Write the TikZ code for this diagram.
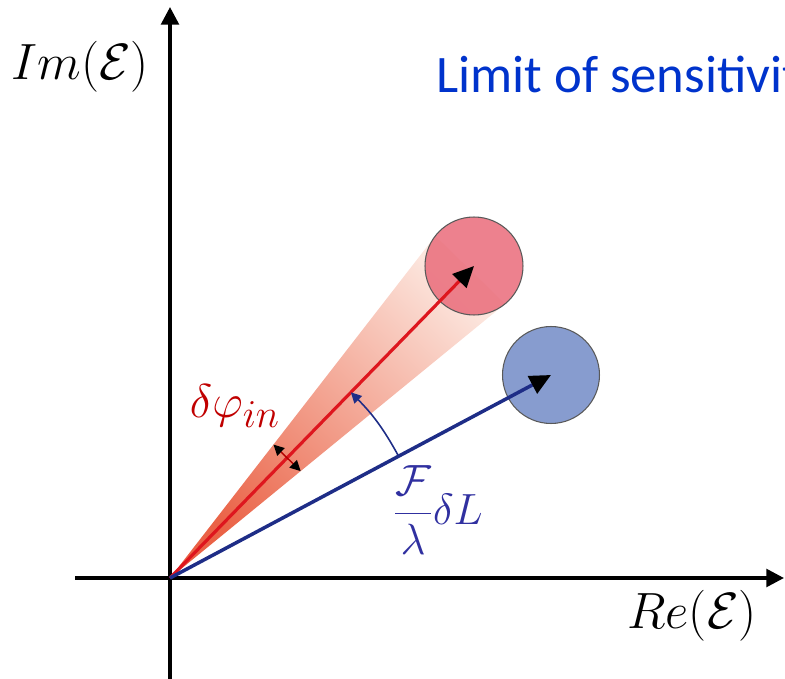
\documentclass[tikz,border=0pt]{standalone}
\usepackage{fontspec}
\newfontfamily\limitfont{Carlito}
\usetikzlibrary{arrows.meta, calc, backgrounds}
\definecolor{vecred}{RGB}{222,22,30}
\definecolor{vecblue}{RGB}{30,45,135}
\definecolor{circred}{RGB}{234,112,126}
\definecolor{circblue}{RGB}{118,142,200}
\definecolor{conedark}{RGB}{234,98,70}
\definecolor{conelight}{RGB}{252,230,222}
\definecolor{phired}{RGB}{192,0,0}
\definecolor{labelblue}{RGB}{48,48,160}
\definecolor{limitblue}{RGB}{0,51,204}

\begin{document}
\begin{tikzpicture}[
    x=0.02cm, y=-0.02cm,
    axis/.style={line width=2pt, black, -{Triangle[length=10pt, width=10pt]}},
    vec/.style={-{Triangle[color=black, length=12pt, width=11pt]}},
    blob/.style={circle, inner sep=0pt, outer sep=0pt,
        draw=black!65, line width=0.6pt, fill opacity=0.88},
    bigmath/.style={font=\fontsize{24.88}{30}\selectfont, scale=1.166, transform shape},
    smalltip/.style={line width=0.8pt,
        {Triangle[color=black, length=6pt, width=6pt]}-{Triangle[color=black, length=6pt, width=6pt]}}
]
\useasboundingbox (0,0) rectangle (785,679);
\clip (0,0) rectangle (785,679);

% Axes
\coordinate (O) at (170,578);
\coordinate (xs) at (75,578);
\coordinate (xe) at (784,578);
\coordinate (ys) at (170,679);
\coordinate (ye) at (170,7);
\draw[axis] (xs) -- (xe);
\draw[axis] (ys) -- (ye);

% Field states
\node[blob, fill=circred, minimum size=1.96cm] (redc) at (474,266) {};
\node[blob, fill=circblue, minimum size=1.94cm] (bluec) at (551,375) {};

% Phase noise cone
\coordinate (t1) at (tangent cs:node=redc, point={(O)}, solution=1);
\coordinate (t2) at (tangent cs:node=redc, point={(O)}, solution=2);
\begin{pgfonlayer}{background}
\shade[top color=conelight, bottom color=conedark, shading angle=-44.3]
    (O) -- (t1) -- (t2) -- cycle;
\end{pgfonlayer}

% Vectors
\draw[vec, vecred, line width=1.8pt] (O) -- (redc.center);
\draw[vec, vecblue, line width=2pt] (O) -- (bluec.center);

% Cone width
\coordinate (w1) at ($(O)!0.39!(t1)$);
\coordinate (w2) at ($(O)!0.39!(t2)$);
\draw[smalltip, red!70!black] (w1) -- (w2);

% Rotation
\coordinate (b6) at ($(O)!0.6!(bluec.center)$);
\coordinate (r6) at ($(O)!0.595!(redc.center)$);
\draw[vecblue, line width=0.9pt, -{Triangle[length=6pt, width=6pt]}] (b6) to[bend right=8] (r6);

% Labels
\node[bigmath] (im) at (80,67) {$Im(\mathcal{E})$};
\node[bigmath] (re) at (692,616) {$Re(\mathcal{E})$};
\node[text=phired, font=\fontsize{24.88}{30}\selectfont, scale=1.085, transform shape]
    (dphi) at (235,406) {$\delta\varphi_{in}$};
\node[text=labelblue, font=\fontsize{24.88}{30}\selectfont] (flam) at (438,510)
    {$\displaystyle\frac{\mathcal{F}}{\lambda}\delta L$};
\node[anchor=base west, inner sep=0pt, text=limitblue,
    font=\limitfont\fontsize{30}{36}\selectfont] (lim) at (436,93) {Limit of sensitivity};

\end{tikzpicture}
\end{document}
